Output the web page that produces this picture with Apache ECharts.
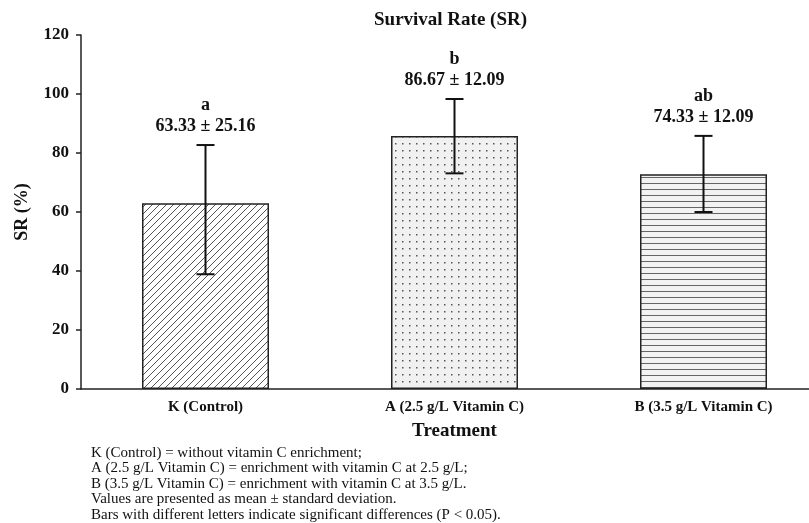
<!DOCTYPE html>
<html>
<head>
<meta charset="utf-8">
<script src="https://cdn.jsdelivr.net/npm/echarts@6/dist/echarts.min.js"></script>
<style>
  html, body { margin: 0; padding: 0; background: #fff; }
  #chart { width: 809px; height: 523px; }
</style>
</head>
<body>
<div id="chart"></div>
<script>
// data
const categories = ['K (Control)', 'A (2.5 g/L Vitamin C)', 'B (3.5 g/L Vitamin C)'];
const barValues = [63.0, 85.8, 72.8];       // drawn bar heights
const errLow = [38.9, 73.1, 60.0];          // lower whisker
const errHigh = [82.7, 98.3, 85.8];         // upper whisker
const means = ['63.33', '86.67', '74.33'];  // printed labels
const sds = ['25.16', '12.09', '12.09'];
const letters = ['a', 'b', 'ab'];
const yTicks = [0, 20, 40, 60, 80, 100, 120];
const notes = [
  'K (Control) = without vitamin C enrichment;',
  'A (2.5 g/L Vitamin C) = enrichment with vitamin C at 2.5 g/L;',
  'B (3.5 g/L Vitamin C) = enrichment with vitamin C at 3.5 g/L.',
  'Values are presented as mean \u00b1 standard deviation.',
  'Bars with different letters indicate significant differences (P < 0.05).'
];

const serif = '"Liberation Serif", "Times New Roman", serif';

// hatch fills
function makePattern(kind) {
  const c = document.createElement('canvas');
  const ctx = c.getContext('2d');
  if (kind === 'diag') {
    c.width = 7; c.height = 7;
    ctx.fillStyle = '#fff';
    ctx.fillRect(0, 0, 7, 7);
    ctx.strokeStyle = '#555';
    ctx.lineWidth = 1;
    ctx.beginPath();
    ctx.moveTo(-1, 8); ctx.lineTo(8, -1);
    ctx.moveTo(-1, 1); ctx.lineTo(1, -1);
    ctx.moveTo(6, 8); ctx.lineTo(8, 6);
    ctx.stroke();
  } else if (kind === 'dots') {
    c.width = 7; c.height = 7;
    ctx.fillStyle = '#f1f1f1';
    ctx.fillRect(0, 0, 7, 7);
    ctx.fillStyle = '#555';
    ctx.fillRect(3, 3, 1.5, 1.5);
  } else {
    c.width = 6; c.height = 6;
    ctx.fillStyle = '#f2f2f2';
    ctx.fillRect(0, 0, 6, 6);
    ctx.fillStyle = '#666';
    ctx.fillRect(0, 3, 6, 1);
  }
  return { image: c, repeat: 'repeat' };
}
const fills = [makePattern('diag'), makePattern('dots'), makePattern('hline')];

const chart = echarts.init(document.getElementById('chart'));

const option = {
  animation: false,
  title: {
    text: 'Survival Rate (SR)',
    left: 369,
    top: 6,
    textStyle: { fontFamily: serif, fontSize: 19, fontWeight: 'bold', color: '#111' }
  },
  // the x axis runs past the right edge in the original figure
  grid: { left: 81, right: -19, top: 35, bottom: 134, outerBoundsMode: 'none', containLabel: false },
  xAxis: {
    type: 'category',
    data: categories,
    name: 'Treatment',
    nameLocation: 'middle',
    nameGap: 33,
    nameTextStyle: { fontFamily: serif, fontSize: 19, fontWeight: 'bold', color: '#111' },
    axisLine: { lineStyle: { color: '#222', width: 1.5 } },
    axisTick: { alignWithLabel: true, length: 5, lineStyle: { color: '#222', width: 1.5 } },
    axisLabel: { margin: 11, fontFamily: serif, fontSize: 15, fontWeight: 'bold', color: '#111' }
  },
  yAxis: {
    type: 'value',
    min: 0,
    max: 120,
    interval: 20,
    name: 'SR (%)',
    nameLocation: 'middle',
    nameGap: 50,
    nameTextStyle: { fontFamily: serif, fontSize: 18, fontWeight: 'bold', color: '#111' },
    axisLine: { show: true, lineStyle: { color: '#222', width: 1.5 } },
    axisTick: { show: true, length: 5, lineStyle: { color: '#222', width: 1.5 } },
    splitLine: { show: false },
    axisLabel: {
      margin: 12, fontFamily: serif, fontSize: 17, fontWeight: 'bold', color: '#111',
      formatter: v => (yTicks.indexOf(v) >= 0 ? String(v) : '')
    }
  },
  series: [
    {
      type: 'bar',
      barWidth: 127,
      data: barValues.map((v, i) => ({
        value: v,
        itemStyle: { color: fills[i], borderColor: '#222', borderWidth: 1.5 }
      }))
    },
    {
      type: 'custom',
      z: 5,
      data: categories.map((c, i) => [i, errLow[i], errHigh[i]]),
      renderItem: function (params, api) {
        const i = api.value(0);
        const top = api.coord([i, api.value(2)]);
        const bot = api.coord([i, api.value(1)]);
        const cap = 9;
        const ls = { stroke: '#111', lineWidth: 2 };
        const font = 'bold 18px ' + serif;
        return {
          type: 'group',
          children: [
            { type: 'line', shape: { x1: top[0], y1: top[1], x2: bot[0], y2: bot[1] }, style: ls },
            { type: 'line', shape: { x1: top[0] - cap, y1: top[1], x2: top[0] + cap, y2: top[1] }, style: ls },
            { type: 'line', shape: { x1: bot[0] - cap, y1: bot[1], x2: bot[0] + cap, y2: bot[1] }, style: ls },
            {
              type: 'text', x: top[0], y: top[1] - 19,
              style: { text: means[i] + ' \u00b1 ' + sds[i], font: font, fill: '#111', align: 'center', verticalAlign: 'middle' }
            },
            {
              type: 'text', x: top[0], y: top[1] - 40,
              style: { text: letters[i], font: font, fill: '#111', align: 'center', verticalAlign: 'middle' }
            }
          ]
        };
      }
    }
  ],
  graphic: [
    {
      type: 'text',
      left: 91,
      top: 445,
      style: {
        text: notes.join('\n'),
        font: '15px ' + serif,
        lineHeight: 15.5,
        fill: '#111'
      }
    }
  ]
};

chart.setOption(option);
</script>
</body>
</html>
